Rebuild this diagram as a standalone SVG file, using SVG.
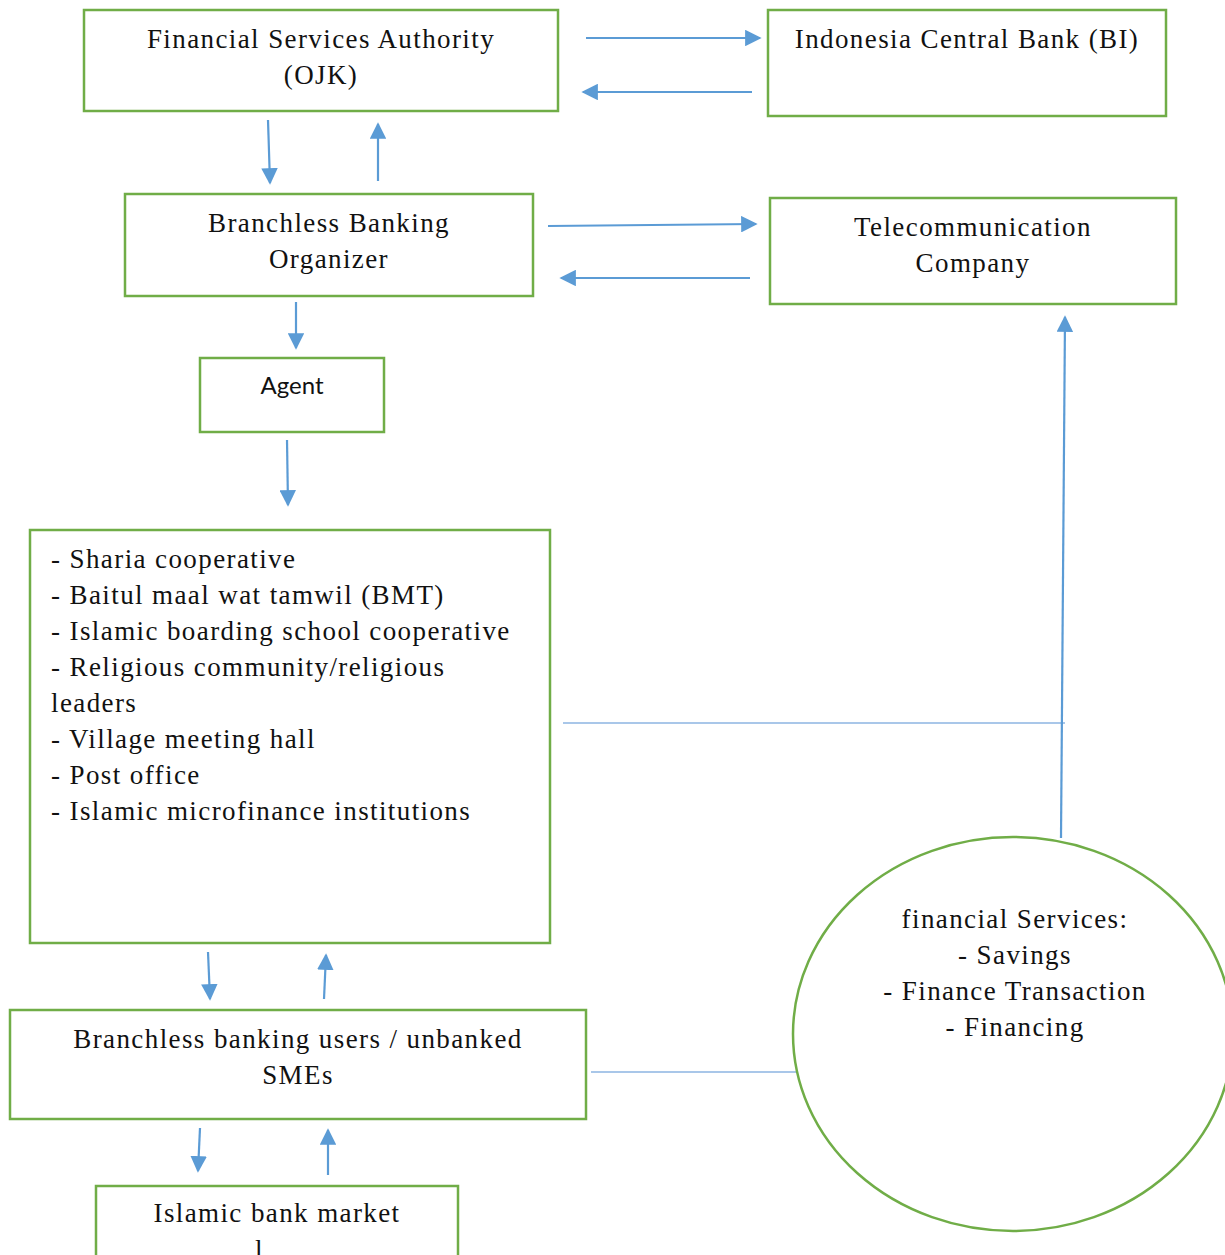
<svg xmlns="http://www.w3.org/2000/svg" width="1225" height="1255" viewBox="0 0 1225 1255">
<defs>
<style>
.box{fill:#fff;stroke:#70AD47;stroke-width:2.5}
.t{font-family:"Liberation Serif",serif;font-size:27px;letter-spacing:1.4px;fill:#111}
.m{text-anchor:middle}
.s{font-family:Lato,"Liberation Sans",sans-serif;font-size:24px;fill:#111;text-anchor:middle}
.a{stroke:#5B9BD5;stroke-width:2.2;fill:none;marker-end:url(#ah)}
.l{stroke:#8DB4E2;stroke-width:1.6;fill:none}
</style>
<marker id="ah" viewBox="0 0 10 10" refX="9" refY="5" markerWidth="7.5" markerHeight="7.5" markerUnits="strokeWidth" orient="auto">
<path d="M0,0 L10,5 L0,10 z" fill="#5B9BD5"/>
</marker>
</defs>
<rect width="1225" height="1255" fill="#fff"/>
<g id="connectors">
<line class="a" x1="586" y1="38" x2="760" y2="38"/>
<line class="a" x1="752" y1="92" x2="583" y2="92"/>
<line class="a" x1="268" y1="120" x2="270" y2="183"/>
<line class="a" x1="378" y1="181" x2="378" y2="124"/>
<line class="a" x1="548" y1="226" x2="756" y2="224"/>
<line class="a" x1="750" y1="278" x2="561" y2="278"/>
<line class="a" x1="296" y1="302" x2="296" y2="348"/>
<line class="a" x1="287" y1="440" x2="288" y2="505"/>
<line class="l" x1="563" y1="723" x2="1065" y2="723"/>
<line class="a" x1="1061" y1="838" x2="1065" y2="317"/>
<line class="a" x1="208" y1="952" x2="210" y2="999"/>
<line class="a" x1="324" y1="999" x2="326" y2="955"/>
<line class="l" x1="591" y1="1072" x2="797" y2="1072"/>
<line class="a" x1="200" y1="1128" x2="198" y2="1171"/>
<line class="a" x1="328" y1="1175" x2="328" y2="1130"/>
</g>
<g id="ojk">
<rect class="box" x="84" y="10" width="474" height="101"/>
<text class="t m" x="321" y="48">Financial Services Authority</text>
<text class="t m" x="321" y="84">(OJK)</text>
</g>
<g id="bi">
<rect class="box" x="768" y="10" width="398" height="106"/>
<text class="t m" x="967" y="48">Indonesia Central Bank (BI)</text>
</g>
<g id="bbo">
<rect class="box" x="125" y="194" width="408" height="102"/>
<text class="t m" x="329" y="232">Branchless Banking</text>
<text class="t m" x="329" y="268">Organizer</text>
</g>
<g id="telecom">
<rect class="box" x="770" y="198" width="406" height="106"/>
<text class="t m" x="973" y="236">Telecommunication</text>
<text class="t m" x="973" y="272">Company</text>
</g>
<g id="agent">
<rect class="box" x="200" y="358" width="184" height="74"/>
<text class="s" x="292" y="394">Agent</text>
</g>
<g id="institutions">
<rect class="box" x="30" y="530" width="520" height="413"/>
<text class="t" x="51" y="568">- Sharia cooperative</text>
<text class="t" x="51" y="604">- Baitul maal wat tamwil (BMT)</text>
<text class="t" x="51" y="640">- Islamic boarding school cooperative</text>
<text class="t" x="51" y="676">- Religious community/religious</text>
<text class="t" x="51" y="712">leaders</text>
<text class="t" x="51" y="748">- Village meeting hall</text>
<text class="t" x="51" y="784">- Post office</text>
<text class="t" x="51" y="820">- Islamic microfinance institutions</text>
</g>
<g id="users">
<rect class="box" x="10" y="1010" width="576" height="109"/>
<text class="t m" x="298" y="1048">Branchless banking users / unbanked</text>
<text class="t m" x="298" y="1084">SMEs</text>
</g>
<g id="services">
<ellipse cx="1013" cy="1034" rx="220" ry="197" fill="none" stroke="#70AD47" stroke-width="2.5"/>
<text class="t m" x="1015" y="928">financial Services:</text>
<text class="t m" x="1015" y="964">- Savings</text>
<text class="t m" x="1015" y="1000">- Finance Transaction</text>
<text class="t m" x="1015" y="1036">- Financing</text>
</g>
<g id="market">
<rect class="box" x="96" y="1186" width="362" height="100"/>
<text class="t m" x="277" y="1222">Islamic bank market</text>
<text class="t" x="255" y="1259">l</text>
</g>
</svg>
